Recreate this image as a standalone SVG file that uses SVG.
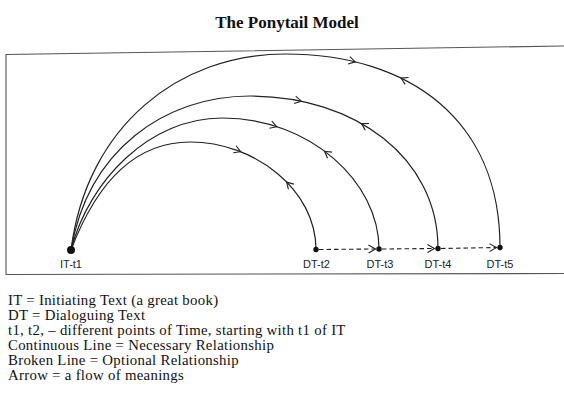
<svg xmlns="http://www.w3.org/2000/svg" xmlns:xlink="http://www.w3.org/1999/xlink" width="564" height="403" viewBox="0 0 564 403">
<style>
.frame{fill:none;stroke:#555;stroke-width:1.1}
.arc{fill:none;stroke:#222;stroke-width:1.2}
.dash{fill:none;stroke:#222;stroke-width:1.1;stroke-dasharray:4.5,3}
.chev{fill:none;stroke:#222;stroke-width:1.1;stroke-linejoin:miter}
.dot{fill:#111}
.lbl{font-family:"Liberation Sans",Arial,sans-serif;font-size:11px;fill:#222;text-anchor:middle}
.title{font-family:"Liberation Serif","Times New Roman",serif;font-size:17px;font-weight:bold;fill:#111;text-anchor:middle}
.legend{font-family:"Liberation Serif","Times New Roman",serif;font-size:14.8px;letter-spacing:0.3px;fill:#111}
</style>
<defs>
<path id="chev" class="chev" d="M-6.5,-3.8 L0,0 L-6.5,3.8"/>
<marker id="arrowOpen" markerUnits="userSpaceOnUse" markerWidth="10" markerHeight="10" viewBox="-8 -5 10 10" refX="0" refY="0" orient="auto">
<path class="chev" d="M-7,-4 L0,0 L-7,4"/>
</marker>
</defs>
<rect width="564" height="403" fill="#fff"/>
<text class="title" x="287" y="28">The Ponytail Model</text>
<path class="frame" d="M564,46 L6,54.5 L6,274.5 L564,273.5"/>
<g id="connectors">
<path class="arc" d="M71,250 C90,200 125,142 190,142 C255,142 316,190 316,249.5"/>
<path class="arc" d="M71,250 C89,180 150,118 222,118 C310,118 379,182 379,249"/>
<path class="arc" d="M71,250 C88,150 165,96 250,96 C355,96 438,158 438,248.5"/>
<path class="arc" d="M71,250 C87,125 180,54 285,54 C410,54 500,120 500,247.5"/>
<use xlink:href="#chev" href="#chev" transform="translate(240.7,151.7) rotate(21.7)"/>
<use xlink:href="#chev" href="#chev" transform="translate(286.6,182.1) rotate(225.7)"/>
<use xlink:href="#chev" href="#chev" transform="translate(276.8,126.7) rotate(18)"/>
<use xlink:href="#chev" href="#chev" transform="translate(324.6,151.3) rotate(216.7)"/>
<use xlink:href="#chev" href="#chev" transform="translate(301.3,101.2) rotate(11.9)"/>
<use xlink:href="#chev" href="#chev" transform="translate(361.5,123.6) rotate(209.7)"/>
<use xlink:href="#chev" href="#chev" transform="translate(355.3,61.9) rotate(13.5)"/>
<use xlink:href="#chev" href="#chev" transform="translate(401,78.1) rotate(205.9)"/>
<path class="dash" d="M319,249.5 L375.5,249" marker-end="url(#arrowOpen)"/>
<path class="dash" d="M382,249 L434.5,248.5" marker-end="url(#arrowOpen)"/>
<path class="dash" d="M441,248.5 L496.5,247.5" marker-end="url(#arrowOpen)"/>
</g>
<g id="node-it-t1">
<circle class="dot" cx="71" cy="250" r="4"/>
<text class="lbl" x="71" y="268">IT-t1</text>
</g>
<g id="node-dt-t2">
<circle class="dot" cx="316" cy="249.5" r="2.7"/>
<text class="lbl" x="316.5" y="268">DT-t2</text>
</g>
<g id="node-dt-t3">
<circle class="dot" cx="379" cy="249" r="2.7"/>
<text class="lbl" x="380" y="268">DT-t3</text>
</g>
<g id="node-dt-t4">
<circle class="dot" cx="438" cy="248.5" r="2.7"/>
<text class="lbl" x="438" y="267.5">DT-t4</text>
</g>
<g id="node-dt-t5">
<circle class="dot" cx="500" cy="247.5" r="2.7"/>
<text class="lbl" x="500" y="267.5">DT-t5</text>
</g>
<g id="legend">
<text class="legend" x="8" y="305">IT = Initiating Text (a great book)</text>
<text class="legend" x="8" y="320">DT = Dialoguing Text</text>
<text class="legend" x="8" y="335">t1, t2, – different points of Time, starting with t1 of IT</text>
<text class="legend" x="8" y="350">Continuous Line = Necessary Relationship</text>
<text class="legend" x="8" y="365">Broken Line = Optional Relationship</text>
<text class="legend" x="8" y="380">Arrow = a flow of meanings</text>
</g>
</svg>
